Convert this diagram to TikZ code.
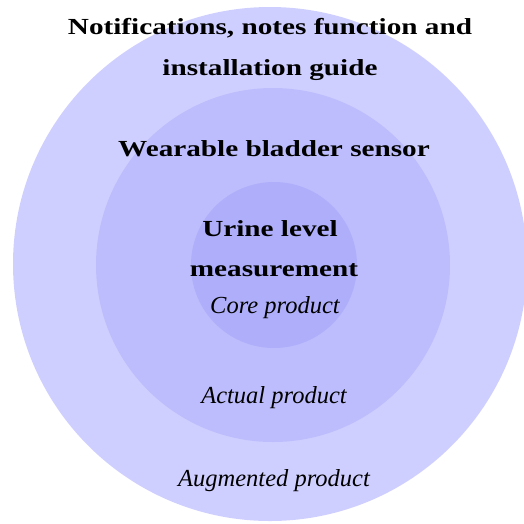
\documentclass[tikz,border=0pt]{standalone}
\usepackage{fontspec}
\setmainfont[BoldFeatures={FakeStretch=1.27}]{Liberation Serif}
\usepackage{xcolor,tikz}
\usetikzlibrary{positioning}
\definecolor{ringA}{HTML}{CFCFFF}
\definecolor{ringB}{HTML}{BDBDFD}
\definecolor{ringC}{HTML}{AEAEFA}

\begin{document}
\begin{tikzpicture}[x=1pt,y=-1pt,
  lbl/.style={font=\fontsize{23}{40}\selectfont\bfseries,align=center,inner sep=0pt,anchor=base},
  lev/.style={font=\fontsize{24.5}{30}\selectfont\itshape,inner sep=0pt,anchor=base}]
\useasboundingbox (0,0) rectangle (524,523);
% rings
\fill[ringA] (270,264) circle (257);
\fill[ringB] (273,265) circle (177);
\fill[ringC] (274,265) circle (83);
% augmented
\node[lbl] (aug1) at (270,34) {Notifications, notes function and};
\node[lbl] (aug2) at (270,75) {installation guide};
\node[lev] (augl) at (274,486) {Augmented product};
% actual
\node[lbl] (act) at (274,156) {Wearable bladder sensor};
\node[lev] (actl) at (274,403) {Actual product};
% core
\node[lbl] (core1) at (270,236) {Urine level};
\node[lbl] (core2) at (274,276) {measurement};
\node[lev] (corel) at (275,313) {Core product};
\end{tikzpicture}
\end{document}
